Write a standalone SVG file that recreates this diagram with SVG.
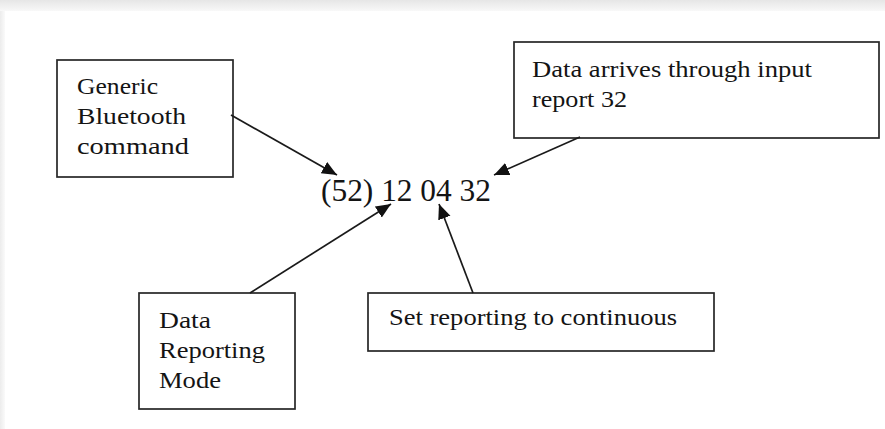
<svg xmlns="http://www.w3.org/2000/svg" width="885" height="429" viewBox="0 0 885 429">
  <defs>
    <linearGradient id="topfade" x1="0" y1="0" x2="0" y2="1">
      <stop offset="0" stop-color="#e6e6e6"/>
      <stop offset="1" stop-color="#f8f8f8"/>
    </linearGradient>
    <linearGradient id="leftfade" x1="0" y1="0" x2="1" y2="0">
      <stop offset="0" stop-color="#ececec"/>
      <stop offset="1" stop-color="#fafafa"/>
    </linearGradient>
    <marker id="arrow" markerUnits="userSpaceOnUse" markerWidth="18" markerHeight="16" refX="15" refY="6.5" orient="auto">
      <path d="M0,0 L15,6.5 L0,13 Z" fill="#111"/>
    </marker>
  </defs>
  <style>
    .box { fill: #ffffff; stroke: #262626; stroke-width: 1.7; }
    .lbl { font-family: "Liberation Serif", "Times New Roman", serif; font-size: 23px; fill: #141414; }
    .code { font-family: "Liberation Serif", "Times New Roman", serif; font-size: 31px; fill: #141414; }
    .conn { stroke: #1a1a1a; stroke-width: 1.7; fill: none; marker-end: url(#arrow); }
  </style>

  <rect x="0" y="0" width="885" height="429" fill="#ffffff"/>
  <rect x="0" y="0" width="885" height="11" fill="url(#topfade)"/>
  <rect x="0" y="11" width="5" height="418" fill="url(#leftfade)"/>

  <g id="node-generic">
    <rect class="box" x="57" y="60" width="176" height="117"/>
    <text class="lbl" x="77" y="94" textLength="81" lengthAdjust="spacingAndGlyphs">Generic</text>
    <text class="lbl" x="77" y="124" textLength="109" lengthAdjust="spacingAndGlyphs">Bluetooth</text>
    <text class="lbl" x="77" y="154" textLength="112" lengthAdjust="spacingAndGlyphs">command</text>
  </g>

  <g id="node-input-report">
    <rect class="box" x="514" y="42" width="365" height="96"/>
    <text class="lbl" x="532" y="77" textLength="280" lengthAdjust="spacingAndGlyphs">Data arrives through input</text>
    <text class="lbl" x="532" y="107" textLength="95" lengthAdjust="spacingAndGlyphs">report 32</text>
  </g>

  <g id="node-code">
    <text class="code" x="321" y="201" textLength="170" lengthAdjust="spacingAndGlyphs">(52) 12 04 32</text>
  </g>

  <g id="node-data-reporting">
    <rect class="box" x="139" y="293" width="156" height="116"/>
    <text class="lbl" x="159" y="328" textLength="52" lengthAdjust="spacingAndGlyphs">Data</text>
    <text class="lbl" x="159" y="358" textLength="106" lengthAdjust="spacingAndGlyphs">Reporting</text>
    <text class="lbl" x="159" y="388" textLength="62" lengthAdjust="spacingAndGlyphs">Mode</text>
  </g>

  <g id="node-continuous">
    <rect class="box" x="368" y="293" width="346" height="58"/>
    <text class="lbl" x="389" y="325" textLength="288" lengthAdjust="spacingAndGlyphs">Set reporting to continuous</text>
  </g>

  <g id="connectors">
    <path class="conn" d="M231,115 L337,175"/>
    <path class="conn" d="M580,137 L494,175"/>
    <path class="conn" d="M250,293 L391,204"/>
    <path class="conn" d="M473,293 L439,204"/>
  </g>
</svg>
